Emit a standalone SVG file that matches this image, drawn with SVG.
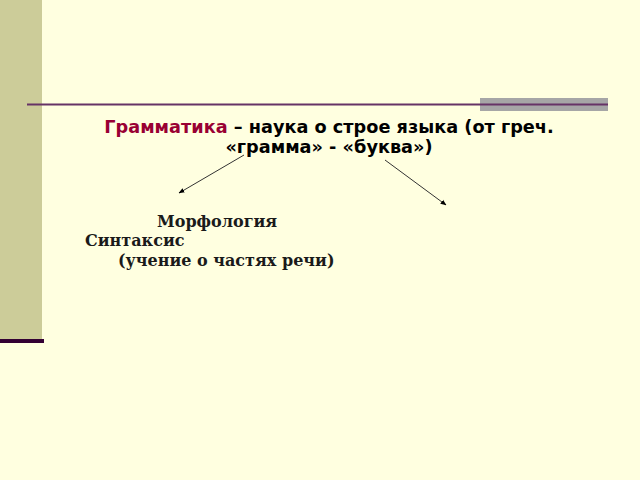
<svg xmlns="http://www.w3.org/2000/svg" width="640" height="480" viewBox="0 0 640 480">
<style>
.t{font-family:"DejaVu Sans","Noto Sans",sans-serif;font-weight:bold;font-size:17.7px;fill:#000}
.s{font-family:"DejaVu Serif","Liberation Serif",serif;font-weight:bold;font-size:16px;fill:#1a1a1a}
.c{stroke:#333;stroke-width:1;fill:none;marker-end:url(#a)}
</style>
<defs>
<marker id="a" viewBox="0 0 10 10" refX="9" refY="5" markerWidth="6" markerHeight="6" orient="auto" markerUnits="userSpaceOnUse">
<path d="M0,1 L10,5 L0,9 z" fill="#000"/>
</marker>
</defs>
<rect width="640" height="480" fill="#FFFFE0"/>
<rect x="0" y="0" width="42" height="340" fill="#CCCC99"/>
<rect x="0" y="339" width="44" height="4" fill="#330033"/>
<rect x="480" y="98" width="128" height="13" fill="#A6A6A6"/>
<line x1="27" y1="104.5" x2="608" y2="104.5" stroke="#663366" stroke-width="2"/>
<g id="title">
<text class="t" x="329" y="133" text-anchor="middle"><tspan fill="#990033">Грамматика</tspan> – наука о строе языка (от греч.</text>
<text class="t" x="329" y="153" text-anchor="middle">«грамма» - «буква»)</text>
</g>
<g id="connectors">
<line class="c" x1="244" y1="155" x2="179" y2="193"/>
<line class="c" x1="385" y1="160" x2="446" y2="205"/>
</g>
<g id="morph"><text class="s" x="157" y="227">Морфология</text></g>
<g id="synt"><text class="s" x="85" y="246">Синтаксис</text></g>
<g id="desc"><text class="s" x="118" y="266">(учение о частях речи)</text></g>
</svg>
